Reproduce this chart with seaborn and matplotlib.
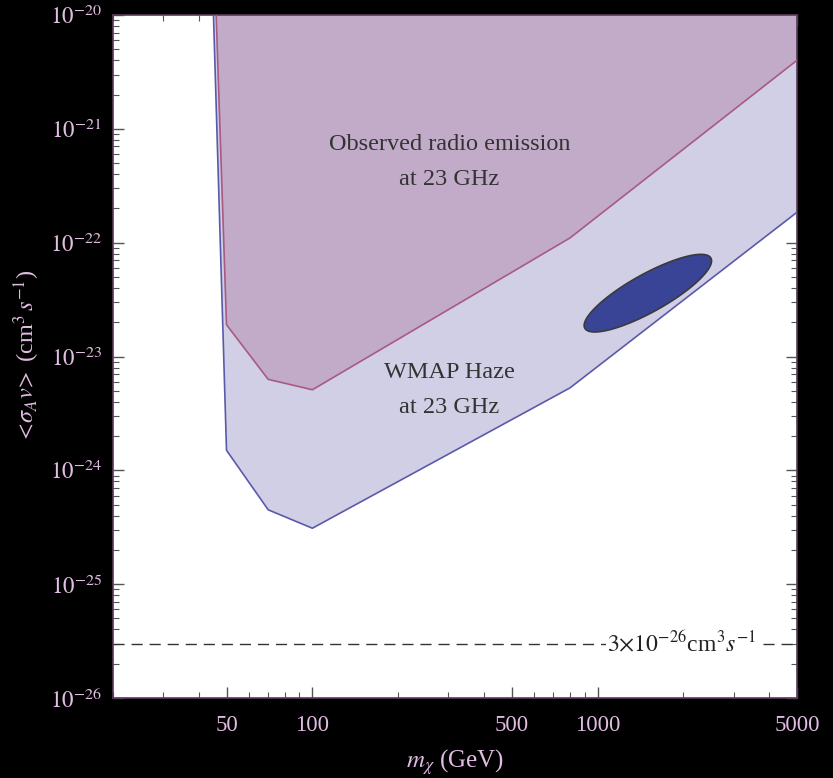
import numpy as np
import pandas as pd
import matplotlib.pyplot as plt
import matplotlib.ticker as mticker
import seaborn as sns

# WMAP haze region, lower boundary (m in GeV, <sigma v> in cm^3/s)
haze_mass = [45, 50, 70, 100, 800, 5000]
haze_sigma = [1e-20, 1.5e-24, 4.5e-25, 3.1e-25, 5.3e-24, 1.85e-22]

# observed radio emission region, lower boundary
radio_mass = [46, 50, 70, 100, 800, 5000]
radio_sigma = [1e-20, 1.9e-23, 6.3e-24, 5.1e-24, 1.1e-22, 4.0e-21]

# best-fit ellipse: centre and half-axes in log10 units
ell_center = (np.log10(1500), np.log10(3.6e-23))
ell_major = (0.221, 0.308)
ell_minor = (0.032, -0.146)

thermal_sigma = 3e-26
x_ticks = [50, 100, 500, 1000, 5000]
y_ticks = [1e-26, 1e-25, 1e-24, 1e-23, 1e-22, 1e-21, 1e-20]
y_ticklabels = [r"$10^{-26}$", r"$10^{-25}$", r"$10^{-24}$", r"$10^{-23}$",
                r"$10^{-22}$", r"$10^{-21}$", r"$10^{-20}$"]

sns.set_theme(style="ticks")
plt.rcParams['font.family'] = ['Liberation Serif', 'DejaVu Serif']
plt.rcParams['mathtext.fontset'] = 'stix'

fig = plt.figure(figsize=(8.33, 7.78), dpi=100, facecolor="black")
ax = fig.add_axes([113 / 833, 80 / 778, 684 / 833, 683 / 778])
ax.set_facecolor("white")

top = 1e-20
ax.fill(haze_mass + [5000], haze_sigma + [top], color="#d0cfe6", lw=0, zorder=1)
ax.fill(radio_mass + [5000], radio_sigma + [top], color="#c2abc8", lw=0, zorder=2)

df_haze = pd.DataFrame({"m": haze_mass, "sigma": haze_sigma})
df_radio = pd.DataFrame({"m": radio_mass, "sigma": radio_sigma})
sns.lineplot(data=df_haze, x="m", y="sigma", sort=False, color="#5a5aaa", lw=1.2, ax=ax, zorder=3)
sns.lineplot(data=df_radio, x="m", y="sigma", sort=False, color="#a85a82", lw=1.2, ax=ax, zorder=3)

# ellipse drawn in log space
t = np.linspace(0, 2 * np.pi, 200)
ex = ell_center[0] + np.cos(t) * ell_major[0] + np.sin(t) * ell_minor[0]
ey = ell_center[1] + np.cos(t) * ell_major[1] + np.sin(t) * ell_minor[1]
ax.fill(10 ** ex, 10 ** ey, facecolor="#3a4496", edgecolor="#3a3a3a", lw=1.2, zorder=4)

ax.axhline(thermal_sigma, color="#333333", lw=1, ls=(0, (8, 5)), zorder=3)
ax.text(1970, thermal_sigma, r"$3{\times}10^{-26}$cm$^3s^{-1}$", fontsize=17, color="#222222",
        ha="center", va="center", zorder=5,
        bbox=dict(boxstyle="square,pad=0.05", fc="white", ec="none"))

ax.text(302, 5.1e-22, "Observed radio emission\nat 23 GHz", fontsize=17.5, color="#333333",
        ha="center", va="center", linespacing=1.9, zorder=5)
ax.text(302, 5.1e-24, "WMAP Haze\nat 23 GHz", fontsize=17.5, color="#333333",
        ha="center", va="center", linespacing=1.9, zorder=5)

ax.set_xscale("log")
ax.set_yscale("log")
ax.set_xlim(20, 5000)
ax.set_ylim(1e-26, 1e-20)

ax.xaxis.set_major_locator(mticker.FixedLocator(x_ticks))
ax.xaxis.set_major_formatter(mticker.FixedFormatter([str(v) for v in x_ticks]))
ax.xaxis.set_minor_locator(mticker.LogLocator(base=10, subs=np.arange(1, 10)))
ax.xaxis.set_minor_formatter(mticker.NullFormatter())
ax.yaxis.set_major_locator(mticker.FixedLocator(y_ticks))
ax.yaxis.set_major_formatter(mticker.FixedFormatter(y_ticklabels))
ax.yaxis.set_minor_locator(mticker.LogLocator(base=10, subs=np.arange(2, 10), numticks=20))
ax.yaxis.set_minor_formatter(mticker.NullFormatter())

label_color = "#e2bde2"
ax.tick_params(which="both", direction="in", top=True, right=True, color="#555555",
               labelcolor=label_color, labelsize=16.5)
ax.tick_params(which="major", length=8, width=1)
ax.tick_params(which="minor", length=4, width=0.8)
ax.tick_params(axis="x", pad=12)
ax.tick_params(axis="y", pad=8)

for s in ax.spines.values():
    s.set_color("#5a3a5a")
    s.set_linewidth(1.2)

ax.set_xlabel(r"$m_\chi$ (GeV)", fontsize=18, color=label_color, labelpad=8)
ax.set_ylabel(r"$<\!\sigma_A v\!>$ (cm$^3\,s^{-1}$)", fontsize=17.5, color=label_color, labelpad=6)

fig.savefig("out.png", dpi=100, facecolor="black")
